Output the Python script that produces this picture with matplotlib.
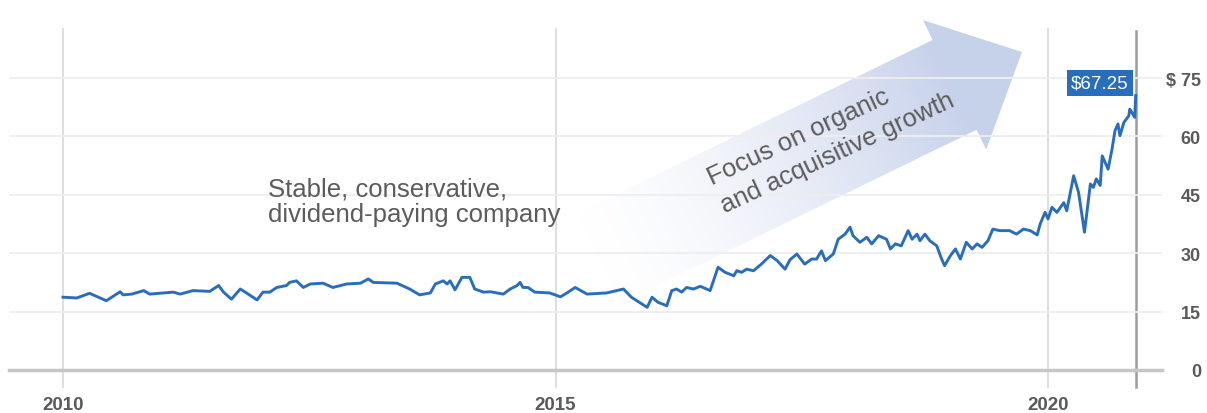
import numpy as np
import matplotlib
matplotlib.use("Agg")
import matplotlib.pyplot as plt
from matplotlib.patches import Polygon

plt.rcParams['font.family'] = ['Liberation Sans', 'DejaVu Sans']

# share price (decimal year, $)
years = [2010.00, 2010.14, 2010.27, 2010.44, 2010.58, 2010.61, 2010.70, 2010.82, 2010.88,
         2011.12, 2011.19, 2011.32, 2011.49, 2011.58, 2011.63, 2011.71, 2011.80, 2011.85,
         2011.97, 2012.03, 2012.10, 2012.17, 2012.27, 2012.30, 2012.37, 2012.44, 2012.51,
         2012.64, 2012.74, 2012.88, 2013.02, 2013.10, 2013.15, 2013.39, 2013.52, 2013.62,
         2013.73, 2013.78, 2013.86, 2013.90, 2013.93, 2013.98, 2014.05, 2014.13, 2014.18,
         2014.27, 2014.34, 2014.47, 2014.54, 2014.61, 2014.64, 2014.67, 2014.72, 2014.79,
         2014.94, 2015.05, 2015.11, 2015.20, 2015.32, 2015.52, 2015.69, 2015.77, 2015.93,
         2015.98, 2016.04, 2016.13, 2016.18, 2016.23, 2016.28, 2016.33, 2016.40, 2016.47,
         2016.57, 2016.65, 2016.72, 2016.81, 2016.84, 2016.89, 2016.94, 2017.01, 2017.09,
         2017.18, 2017.25, 2017.33, 2017.38, 2017.45, 2017.53, 2017.60, 2017.65, 2017.70,
         2017.74, 2017.82, 2017.87, 2017.94, 2017.99, 2018.02, 2018.09, 2018.16, 2018.21,
         2018.28, 2018.36, 2018.40, 2018.45, 2018.51, 2018.58, 2018.62, 2018.67, 2018.70,
         2018.75, 2018.80, 2018.87, 2018.92, 2018.95, 2019.01, 2019.06, 2019.11, 2019.17,
         2019.23, 2019.28, 2019.33, 2019.39, 2019.44, 2019.51, 2019.61, 2019.68, 2019.75,
         2019.82, 2019.89, 2019.92, 2019.97, 2020.00, 2020.04, 2020.09, 2020.16, 2020.19,
         2020.26, 2020.31, 2020.37, 2020.43, 2020.46, 2020.49, 2020.53, 2020.55, 2020.58,
         2020.61, 2020.65, 2020.68, 2020.71, 2020.73, 2020.77, 2020.82, 2020.83, 2020.85,
         2020.88, 2020.89]
price = [18.7, 18.5, 19.7, 17.8, 20.1, 19.3, 19.5, 20.4, 19.5,
         20.0, 19.5, 20.4, 20.2, 21.7, 20.0, 18.2, 20.8, 20.0,
         18.0, 20.0, 20.0, 21.2, 21.7, 22.5, 22.9, 21.2, 22.1,
         22.3, 21.2, 22.1, 22.3, 23.4, 22.5, 22.3, 20.8, 19.3,
         19.8, 22.1, 22.9, 22.1, 22.9, 20.6, 23.8, 23.8, 20.8,
         20.0, 20.1, 19.5, 20.8, 21.7, 22.5, 21.2, 21.2, 20.0,
         19.8, 18.8, 19.7, 21.2, 19.5, 19.8, 20.8, 18.7, 16.1,
         18.7, 17.4, 16.5, 20.4, 20.8, 20.0, 21.2, 20.8, 21.5,
         20.4, 26.4, 25.1, 24.2, 25.5, 25.1, 25.9, 25.5, 27.2,
         29.4, 28.1, 25.9, 28.3, 29.8, 27.2, 28.5, 28.5, 30.6,
         28.1, 29.8, 33.6, 34.9, 36.7, 34.5, 32.8, 34.1, 32.4,
         34.5, 33.6, 31.1, 32.4, 31.9, 35.8, 33.6, 34.9, 33.2,
         34.9, 33.2, 31.9, 28.5, 26.8, 29.4, 31.1, 28.5, 32.8,
         31.1, 32.4, 31.5, 33.2, 36.2, 35.8, 35.8, 34.9, 36.2,
         35.8, 34.7, 37.5, 40.5, 38.8, 41.8, 40.5, 43.0, 40.9,
         49.9, 45.6, 35.4, 47.8, 46.9, 49.1, 47.4, 55.0, 53.3,
         51.6, 56.8, 61.5, 63.2, 60.2, 63.6, 65.3, 67.0, 66.2,
         64.9, 70.5]

year_ticks = [2010, 2015, 2020]
year_labels = ['2010', '2015', '2020']
price_ticks = [0, 15, 30, 45, 60, 75]
price_labels = ['0', '15', '30', '45', '60', '$ 75']
last_label = '\\$67.25'

W, H = 1207, 414
fig = plt.figure(figsize=(W / 100, H / 100), dpi=100)

# arrow overlay in pixel coordinates (behind the chart)
bg = fig.add_axes([0, 0, 1, 1])
bg.set_xlim(0, W)
bg.set_ylim(H, 0)
bg.axis('off')

tip = np.array([1022.0, 53.0])
ang = np.deg2rad(26)
u = np.array([np.cos(ang), -np.sin(ang)])
n = np.array([np.sin(ang), np.cos(ang)])
head_len, head_w, shaft_w, total = 75, 72, 50, 480
base = tip - head_len * u
tail = tip - total * u
pts = [tip, base + head_w * n, base + shaft_w * n, tail + shaft_w * n,
       tail - shaft_w * n, base - shaft_w * n, base - head_w * n]
poly = Polygon(pts, closed=True, fc='none', ec='none')
bg.add_patch(poly)

gx, gy = np.meshgrid(np.arange(500, 1100), np.arange(0, 360))
s = ((gx - tail[0]) * u[0] + (gy - tail[1]) * u[1]) / (total - head_len)
alpha = np.clip(s, 0, 1) ** 1.5
img = np.zeros(gx.shape + (4,))
img[..., 0] = 0.78
img[..., 1] = 0.82
img[..., 2] = 0.92
img[..., 3] = alpha
im = bg.imshow(img, extent=(500, 1100, 360, 0), interpolation='bilinear', zorder=1)
im.set_clip_path(poly)
bg.set_xlim(0, W)
bg.set_ylim(H, 0)

# main chart
ax = fig.add_axes([9 / W, 43 / H, 1153 / W, 341 / H])
ax.patch.set_alpha(0)
ax.set_xlim(2009.452, 2021.157)
ax.set_ylim(0, 87.6)

ax.set_yticks(price_ticks)
ax.set_yticklabels(price_labels)
ax.set_xticks(year_ticks)
ax.set_xticklabels(year_labels)
ax.yaxis.tick_right()
ax.grid(axis='y', color='#eeeeee', lw=1.3, zorder=0)
ax.tick_params(axis='y', length=0, pad=28, labelsize=13, labelcolor='#5a5a5a')
ax.tick_params(axis='x', length=0, pad=19, labelsize=13.5, labelcolor='#5a5a5a')
for lab in ax.get_yticklabels():
    lab.set_ha('right')
    lab.set_fontweight('bold')
for lab in ax.get_xticklabels():
    lab.set_fontweight('bold')

for sp in ['top', 'left', 'right']:
    ax.spines[sp].set_visible(False)
ax.spines['bottom'].set_color('#c6c6c6')
ax.spines['bottom'].set_linewidth(2.5)

for yr in year_ticks:
    ax.axvline(yr, ymin=-0.05, ymax=1, color='#dcdcdc', lw=1.3, clip_on=False, zorder=1)
ax.axvline(years[-1], ymin=-0.05, ymax=0.995, color='#9c9c9c', lw=1.8, clip_on=False, zorder=1)

ax.plot(years, price, color='#2a6ebb', lw=2.1, zorder=3, solid_joinstyle='round')

ax.annotate(last_label, xy=(years[-1], 73.7), xytext=(-5, 0), textcoords='offset points',
            ha='right', va='center', color='white', fontsize=13.5,
            bbox=dict(boxstyle='square,pad=0.22', fc='#2a6ebb', ec='none'), zorder=4)

# annotations, drawn on top of the grid
fig.text(268, 202, 'Stable, conservative,\ndividend-paying company', ha='left', va='center',
         fontsize=18.5, color='#5c5c5c', linespacing=1.1, transform=bg.transData)
fig.text(831, 139, 'Focus on organic\nand acquisitive growth', ha='center', va='center',
         multialignment='left', rotation=25, rotation_mode='anchor',
         fontsize=18.5, color='#5c5c5c', linespacing=1.35, transform=bg.transData)

fig.savefig('out.png', dpi=100)
